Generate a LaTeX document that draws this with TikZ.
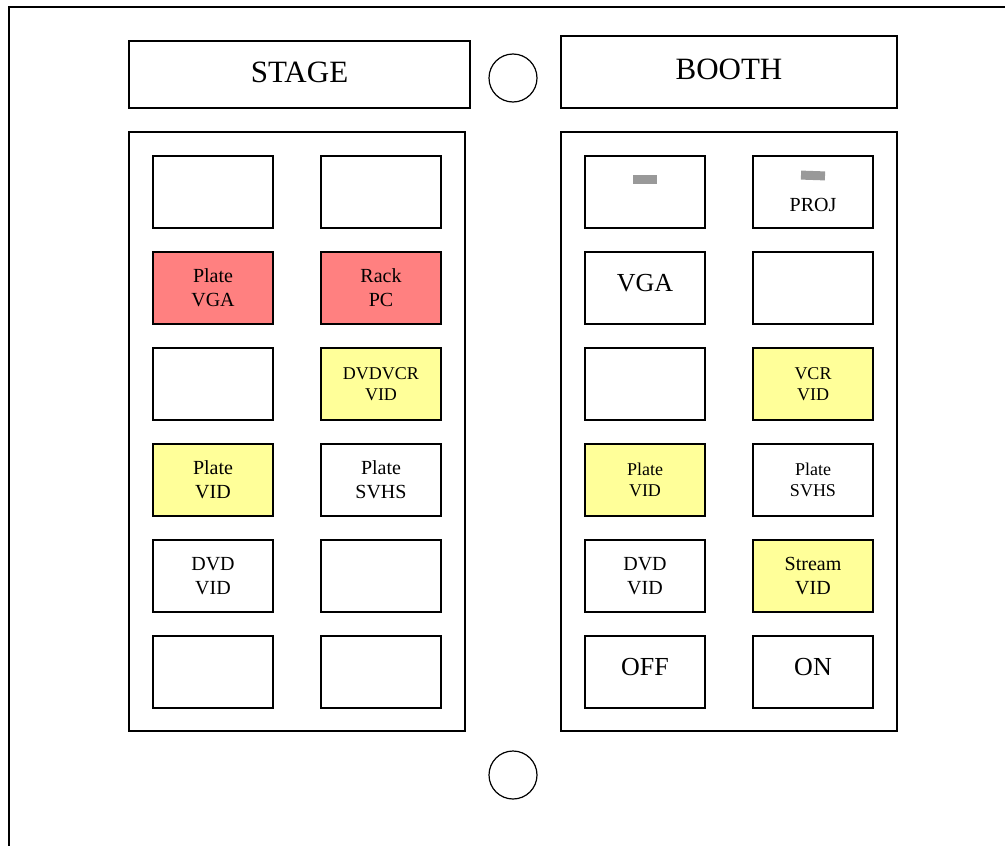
\documentclass[tikz,border=0pt]{standalone}
\usepackage{fontspec}
\setmainfont{Liberation Serif}
\usetikzlibrary{positioning}
\definecolor{btnred}{HTML}{FF8080}
\definecolor{btnyellow}{HTML}{FFFF99}
\definecolor{tabgray}{HTML}{999999}

\begin{document}
\begin{tikzpicture}[x=1pt,y=-1pt,
    frame/.style={draw, line width=1.4pt},
    btn/.style={frame, minimum width=120pt, minimum height=72pt, inner sep=0pt, align=center, font=\fontsize{20}{24}\selectfont},
    small/.style={font=\fontsize{18}{21}\selectfont},
    big/.style={font=\fontsize{26}{30}\selectfont},
    head/.style={frame, inner sep=0pt, font=\fontsize{31}{36}\selectfont},
    knob/.style={draw, line width=1.2pt, circle, minimum size=48pt, inner sep=0pt}]
    \useasboundingbox (0,0) rectangle (1005,846);
    % outer plate
    \draw[line width=1.4pt] (9,846) -- (9,7) -- (1005,7);
    \node[knob] (topknob) at (513,78) {};
    \node[knob] (bottomknob) at (513,775) {};
% Stage
    \begin{scope}
        \node[head, minimum width=341pt, minimum height=67pt] (stagehead) at (299.5,74.5) {\raisebox{4pt}{STAGE}};
        \draw[frame] (129,132) rectangle (465,731);
        \node[btn] (s11) at (213,192) {};
        \node[btn] (s12) at (381,192) {};
        \node[btn, fill=btnred] (s21) at (213,288) {Plate\\VGA};
        \node[btn, fill=btnred] (s22) at (381,288) {Rack\\PC};
        \node[btn] (s31) at (213,384) {};
        \node[btn, fill=btnyellow, small] (s32) at (381,384) {DVDVCR\\VID};
        \node[btn, fill=btnyellow] (s41) at (213,480) {Plate\\VID};
        \node[btn] (s42) at (381,480) {Plate\\SVHS};
        \node[btn] (s51) at (213,576) {DVD\\VID};
        \node[btn] (s52) at (381,576) {};
        \node[btn] (s61) at (213,672) {};
        \node[btn] (s62) at (381,672) {};
    \end{scope}
% Booth
    \begin{scope}
        \node[head, minimum width=336pt, minimum height=72pt] (boothhead) at (729,72) {\raisebox{5pt}{BOOTH}};
        \draw[frame] (561,132) rectangle (897,731);
        \node[btn] (b11) at (645,192) {};
        \fill[tabgray] (633,175) rectangle (657,184);
        \node[btn] (b12) at (813,192) {};
        \fill[tabgray, rotate around={-2:(813,175.5)}] (801,171) rectangle (825,180);
        \node[font=\fontsize{20}{24}\selectfont] (projlabel) at (813,205) {PROJ};
        \node[btn, big] (b21) at (645,288) {\raisebox{10pt}{VGA}};
        \node[btn] (b22) at (813,288) {};
        \node[btn] (b31) at (645,384) {};
        \node[btn, fill=btnyellow, small] (b32) at (813,384) {VCR\\VID};
        \node[btn, fill=btnyellow, small] (b41) at (645,480) {Plate\\VID};
        \node[btn, small] (b42) at (813,480) {Plate\\SVHS};
        \node[btn] (b51) at (645,576) {DVD\\VID};
        \node[btn, fill=btnyellow] (b52) at (813,576) {Stream\\VID};
        \node[btn, big] (b61) at (645,672) {\raisebox{10pt}{OFF}};
        \node[btn, big] (b62) at (813,672) {\raisebox{10pt}{ON}};
    \end{scope}
\end{tikzpicture}
\end{document}
